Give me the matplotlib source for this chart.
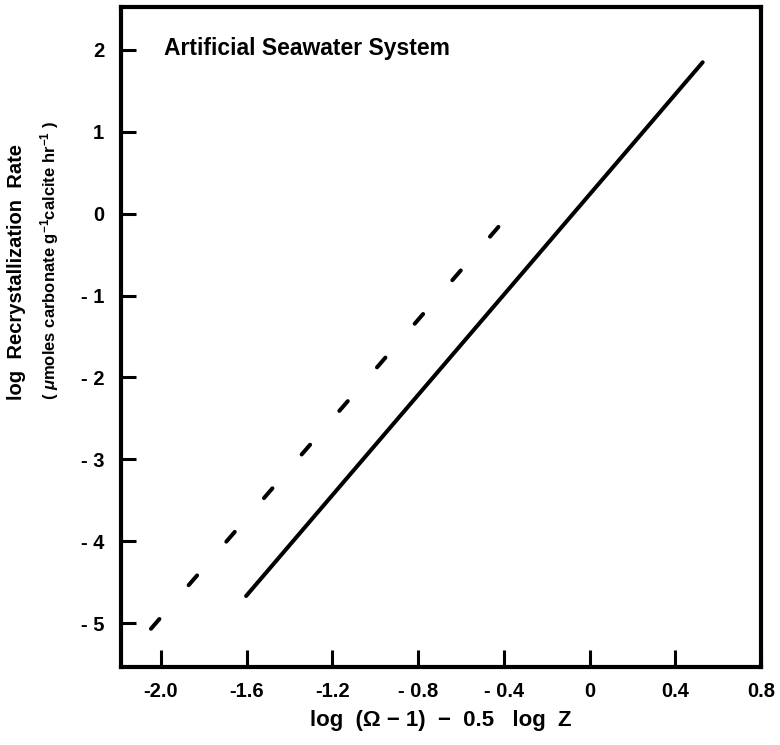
import matplotlib
matplotlib.use("Agg")
from matplotlib import pyplot as plt

# Rate law lines (log rate vs. log saturation term)
solid_x  = [-1.603, 0.528]
solid_y  = [-4.67 , 1.85 ]
dashed_x = [-2.047, -0.425]
dashed_y = [-5.07 , -0.16 ]

x_ticks  = [-2.0, -1.6, -1.2, -0.8, -0.4, 0, 0.4, 0.8]
x_labels = ["-2.0", "-1.6", "-1.2", "- 0.8", "- 0.4", "0", "0.4", "0.8"]
y_ticks  = [2, 1, 0, -1, -2, -3, -4, -5]
y_labels = ["2", "1", "0", "- 1", "- 2", "- 3", "- 4", "- 5"]

plt.rcParams["font.family"] = ["Liberation Sans", "DejaVu Sans"]
plt.rcParams["font.weight"] = "bold"
plt.rcParams["mathtext.fontset"] = "custom"
plt.rcParams["mathtext.rm"] = "Liberation Sans:bold"
plt.rcParams["mathtext.it"] = "Liberation Sans:italic:bold"
plt.rcParams["mathtext.bf"] = "Liberation Sans:bold"

fig = plt.figure(figsize=(7.8, 7.45), dpi=100)
ax = fig.add_axes([0.1551, 0.1047, 0.9756 - 0.1551, 0.9906 - 0.1047])

lw = 2.9
ax.plot(solid_x, solid_y, color="black", lw=lw, solid_capstyle="round")
ax.plot(dashed_x, dashed_y, color="black", lw=lw,
        linestyle=(0, (3.2, 11.1)), dash_capstyle="round")

ax.set_xlim(-2.187, 0.8)
ax.set_ylim(-5.537, 2.525)

ax.set_xticks(x_ticks)
ax.set_xticklabels(x_labels, fontsize=14.5, fontweight="bold")
ax.set_yticks(y_ticks)
ax.set_yticklabels(y_labels, fontsize=14.5, fontweight="bold")
ax.tick_params(axis="x", direction="in", length=12, width=2.2, pad=11)
ax.tick_params(axis="y", direction="in", length=11, width=2.2, pad=12)
for s in ax.spines.values():
    s.set_linewidth(3.0)

ax.set_xlabel("log  (\u03a9 \u2212 1)  \u2212  0.5   log  Z", fontsize=16,
              fontweight="bold", labelpad=6)

ax.text(0.068, 0.927, "Artificial Seawater System", transform=ax.transAxes,
        fontsize=16.5, fontweight="bold", va="baseline", ha="left")

# two-line y label
fig.text(17 / 780, 1 - 272 / 745, "log  Recrystallization  Rate",
         rotation=90, ha="center", va="center", fontsize=14.5, fontweight="bold")
fig.text(50 / 780, 1 - 260 / 745,
         r"( $\mu$moles carbonate g$^{-1}$calcite hr$^{-1}$ )",
         rotation=90, ha="center", va="center", fontsize=12, fontweight="bold")

fig.savefig("out.png", dpi=100)
